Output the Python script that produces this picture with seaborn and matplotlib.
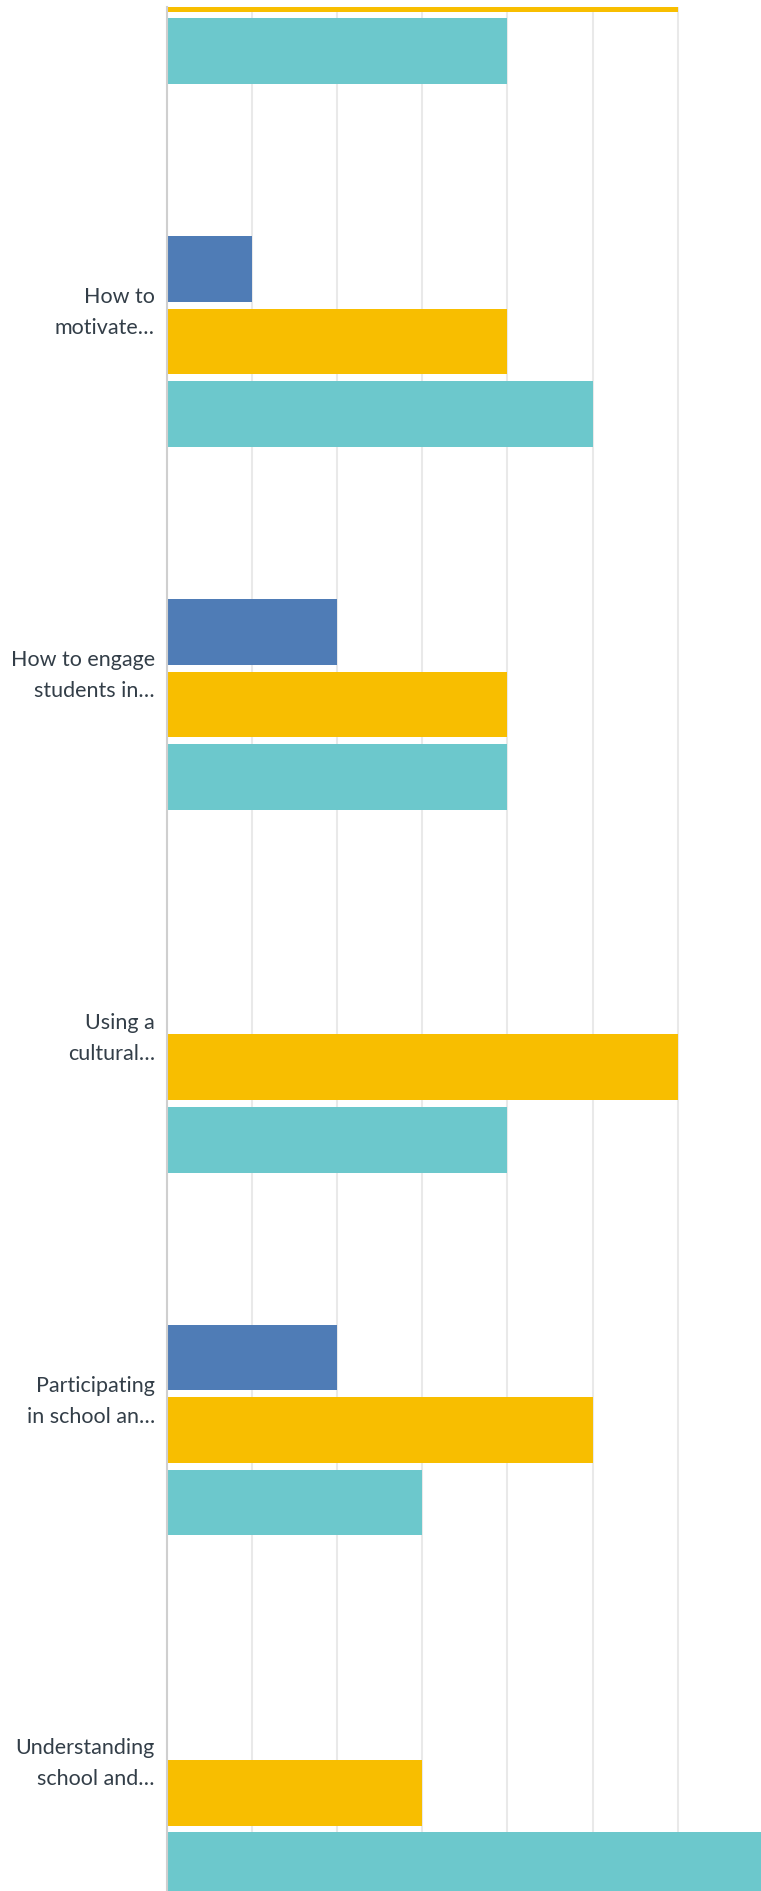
import matplotlib
matplotlib.use("Agg")
import matplotlib.pyplot as plt
import seaborn as sns
import pandas as pd

# ---- data (x in grid units) ----
items = [
    "Previous item",
    "How to\nmotivate…",
    "How to engage\nstudents in…",
    "Using a\ncultural…",
    "Participating\nin school an…",
    "Understanding\nschool and…",
]
series_names = ["Series A", "Series B", "Series C", "Series D"]
series_a = [0, 0, 0, 0, 0, 0]
series_b = [0, 1, 2, 0, 2, 0]
series_c = [6, 4, 4, 6, 5, 3]
series_d = [4, 5, 4, 4, 3, 7]
colors = ["#9B9B9B", "#4F7CB6", "#F8BE00", "#6CC8CC"]

rows = []
for name, vals in zip(series_names, [series_a, series_b, series_c, series_d]):
    for it, v in zip(items, vals):
        rows.append({"item": it, "series": name, "value": v})
df = pd.DataFrame(rows)

sns.set_theme(style="white")
plt.rcParams["font.family"] = ["Lato", "DejaVu Sans"]

fig = plt.figure(figsize=(7.61, 18.91), dpi=100)
W, H = 761, 1891
ax = fig.add_axes([166.5 / W, 0.0, (W - 166.5) / W, (H - 7) / H])

sns.barplot(
    data=df, x="value", y="item", hue="series",
    order=items, hue_order=series_names, palette=colors,
    orient="h", width=0.8, gap=0.094, errorbar=None,
    saturation=1.0, legend=False, ax=ax, zorder=3,
    linewidth=0, edgecolor="none",
)

ax.set_xlim(0, (W - 166.5) / 85.2)
ax.set_ylim((H + 57.5) / 362.8, (7 + 57.5) / 362.8)
ax.set_xticks([1, 2, 3, 4, 5, 6])
ax.set_xticklabels([])
ax.grid(axis="x", color="#E9E9E9", linewidth=1.5, zorder=0)
ax.grid(axis="y", visible=False)
ax.set_axisbelow(True)
for s in ["top", "right", "bottom"]:
    ax.spines[s].set_visible(False)
ax.spines["left"].set_color("#CFCFCF")
ax.spines["left"].set_linewidth(1.5)
ax.spines["left"].set_zorder(5)
ax.set_xlabel("")
ax.set_ylabel("")
ax.tick_params(axis="y", length=0, pad=8.5, labelsize=15.5, labelcolor="#333E48")
ax.tick_params(axis="x", length=0)
for lbl in ax.get_yticklabels():
    lbl.set_linespacing(1.68)
    lbl.set_horizontalalignment("right")
    lbl.set_multialignment("right")

fig.savefig("out.png", dpi=100, facecolor="white")
